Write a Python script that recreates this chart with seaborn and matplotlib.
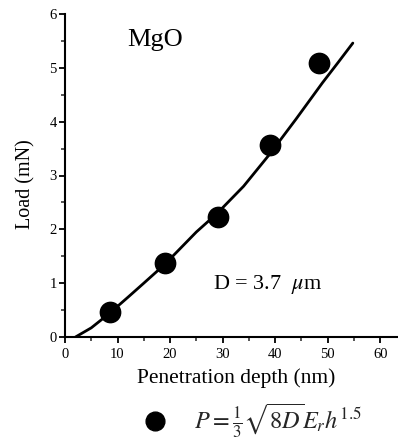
import numpy as np
import pandas as pd
import matplotlib
matplotlib.use("Agg")
import matplotlib.pyplot as plt
from matplotlib.ticker import MultipleLocator
import seaborn as sns

# Data
curve_depth = [2, 5, 8.6, 12, 15, 19, 22, 25, 29, 34, 39, 44, 49, 52, 54.8]
curve_load = [0, 0.17, 0.45, 0.74, 1.0, 1.35, 1.65, 1.95, 2.3, 2.8, 3.4, 4.05, 4.72, 5.1, 5.46]
pt_depth = [8.6, 19.0, 29.1, 39.0, 48.4]
pt_load = [0.46, 1.37, 2.23, 3.57, 5.09]
x_ticks = [0, 10, 20, 30, 40, 50, 60]
y_ticks = [0, 1, 2, 3, 4, 5, 6]

sns.set_theme(style="ticks")
plt.rcParams['font.family'] = ['Liberation Serif', 'DejaVu Serif']
plt.rcParams['mathtext.fontset'] = 'stix'

curve = pd.DataFrame({"h": curve_depth, "P": curve_load})
pts = pd.DataFrame({"h": pt_depth, "P": pt_load})

fig = plt.figure(figsize=(3.98, 4.43), dpi=100)
ax = fig.add_axes([65/398, 1-337/443, 1-65/398, (337-14)/443])

sns.lineplot(data=curve, x="h", y="P", ax=ax, color="black", linewidth=2.0, sort=False)
sns.scatterplot(data=pts, x="h", y="P", ax=ax, color="black", s=210, edgecolor="black", zorder=5)

ax.set_xlim(0, 63.4)
ax.set_ylim(0, 6)
ax.set_xticks(x_ticks)
ax.set_yticks(y_ticks)
ax.xaxis.set_minor_locator(MultipleLocator(5))
ax.yaxis.set_minor_locator(MultipleLocator(0.5))
ax.tick_params(axis='both', which='major', direction='out', length=4, width=1.3, labelsize=10.5, pad=2, colors='black')
ax.tick_params(axis='x', which='major', pad=4)
ax.tick_params(axis='both', which='minor', direction='out', length=3, width=1.1)
sns.despine(ax=ax)
for s in ["left", "bottom"]:
    ax.spines[s].set_linewidth(1.5)
    ax.spines[s].set_color("black")

ax.set_xlabel("Penetration depth (nm)", fontsize=15.5, color='black', va='center')
ax.xaxis.set_label_coords(0.515, -0.127)
ax.set_ylabel("Load (mN)", fontsize=14.5, color='black', va='center')
ax.yaxis.set_label_coords(-0.117, 0.474)

ax.text(11.8, 5.52, "MgO", fontsize=19, color='black', va='center')
ax.text(28.2, 0.97, "D = 3.7  $\\mu$m", fontsize=16, color='black', va='center')

fig.legend(handles=[plt.Line2D([], [], marker='o', color='black', linestyle='none', markersize=13.5)],
           labels=[r"$P = \frac{1}{3}\sqrt{8D}E_r h^{1.5}$"],
           loc='center left', bbox_to_anchor=(0.335, 1-421/443), frameon=False,
           fontsize=17.5, handletextpad=0.7, handlelength=1.8, borderaxespad=0, borderpad=0)

fig.savefig("out.png", dpi=100)
